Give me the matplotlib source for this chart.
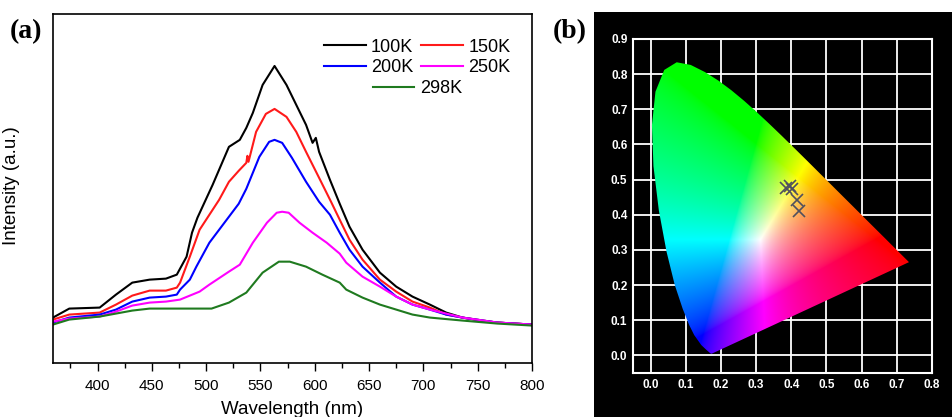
import numpy as np
import matplotlib.pyplot as plt
from matplotlib.patches import Polygon, Rectangle

# ---- (a) PL spectra (arbitrary intensity units) ----
wl_100k = [359, 374, 402, 417, 432, 448, 463, 473, 482, 487, 492, 506, 521, 531, 537, 543, 552, 563,
           574, 583, 592, 598, 601, 604, 614, 623, 632, 644, 660, 675, 690, 706, 721, 736, 752, 768, 800]
int_100k = [46, 55, 56, 69, 81, 84, 85, 89, 107, 131, 146, 179, 217, 224, 236, 251, 279, 298,
            279, 259, 239, 221, 226, 212, 184, 160, 137, 114, 91, 77, 67, 59, 51, 46, 43, 41, 39]

wl_150k = [359, 374, 402, 417, 432, 448, 463, 473, 476, 485, 494, 506, 512, 521, 530, 537, 538, 539,
           546, 555, 563, 574, 583, 592, 604, 615, 623, 632, 644, 660, 675, 690, 706, 721, 736, 768, 800]
int_150k = [44, 49, 51, 59, 68, 73, 73, 76, 81, 107, 134, 154, 164, 182, 193, 201, 208, 202,
            232, 250, 255, 247, 232, 212, 186, 162, 144, 124, 104, 84, 72, 62, 56, 49, 46, 41, 39]

wl_200k = [359, 374, 402, 417, 432, 448, 463, 473, 476, 485, 491, 503, 521, 530, 537, 549, 558, 563,
           570, 579, 592, 604, 614, 623, 632, 644, 660, 675, 690, 706, 721, 736, 768, 800]
int_200k = [41, 46, 49, 54, 62, 66, 67, 69, 74, 84, 97, 121, 147, 160, 175, 207, 222, 224,
            221, 206, 182, 162, 149, 131, 114, 97, 81, 67, 59, 54, 49, 46, 41, 39]

wl_250k = [359, 374, 402, 417, 432, 448, 463, 476, 494, 503, 521, 531, 543, 556, 565, 570, 576, 586,
           598, 611, 623, 629, 644, 660, 675, 690, 706, 736, 768, 800]
int_250k = [42, 45, 47, 52, 58, 61, 62, 64, 72, 79, 92, 99, 121, 141, 151, 152, 151, 141,
            131, 121, 110, 101, 87, 77, 67, 59, 54, 46, 41, 39]

wl_298k = [359, 374, 402, 417, 432, 448, 463, 480, 505, 521, 537, 552, 567, 577, 592, 607, 623, 629,
           644, 660, 675, 690, 706, 736, 768, 800]
int_298k = [39, 44, 47, 50, 53, 55, 55, 55, 55, 61, 71, 91, 102, 102, 97, 89, 81, 74,
            66, 59, 54, 49, 46, 43, 40, 38]

labels = ['100K', '150K', '200K', '250K', '298K']
colors = ['#000000', '#ff1a1a', '#0000ff', '#ff00ff', '#1f7a1f']

# ---- (b) CIE 1931 spectral locus and measured chromaticity points ----
locus_x = [0.1741, 0.1738, 0.1733, 0.1726, 0.1714, 0.1689, 0.1644, 0.1566, 0.1440, 0.1241, 0.1096,
           0.0913, 0.0687, 0.0454, 0.0235, 0.0082, 0.0039, 0.0139, 0.0389, 0.0743, 0.1142, 0.1547,
           0.1929, 0.2296, 0.2658, 0.3016, 0.3373, 0.3731, 0.4087, 0.4441, 0.4788, 0.5125, 0.5448,
           0.5752, 0.6029, 0.6270, 0.6658, 0.6915, 0.7079, 0.7190, 0.7260, 0.7300, 0.7334, 0.7347]
locus_y = [0.0050, 0.0049, 0.0048, 0.0048, 0.0051, 0.0069, 0.0109, 0.0177, 0.0297, 0.0578, 0.0868,
           0.1327, 0.2007, 0.2950, 0.4127, 0.5384, 0.6548, 0.7502, 0.8120, 0.8338, 0.8262, 0.8059,
           0.7816, 0.7543, 0.7243, 0.6923, 0.6589, 0.6245, 0.5896, 0.5547, 0.5202, 0.4866, 0.4544,
           0.4242, 0.3965, 0.3725, 0.3340, 0.3083, 0.2920, 0.2809, 0.2740, 0.2700, 0.2666, 0.2653]
cie_x = [0.386, 0.396, 0.401, 0.415, 0.422]
cie_y = [0.476, 0.481, 0.474, 0.443, 0.410]

plt.rcParams['font.family'] = ['Liberation Sans', 'DejaVu Sans']

fig = plt.figure(figsize=(9.53, 4.17), dpi=100)

# black backdrop of panel (b)
fig.patches.append(Rectangle((0.623, 0.0), 0.377, 0.972, transform=fig.transFigure,
                             facecolor='black', edgecolor='none', zorder=-5))

# ---------------- panel (a) ----------------
ax = fig.add_axes([0.0556, 0.1283, 0.5026, 0.838])
series = [(wl_100k, int_100k), (wl_150k, int_150k), (wl_200k, int_200k),
          (wl_250k, int_250k), (wl_298k, int_298k)]
lines = []
for (w, v), lab, c in zip(series, labels, colors):
    ln, = ax.plot(w, v, color=c, lw=1.5, label=lab)
    lines.append(ln)

ax.set_xlim(359, 800)
ax.set_ylim(0, 350)
ax.set_xticks(np.arange(400, 801, 50))
ax.set_xticks(np.arange(375, 801, 50), minor=True)
ax.set_yticks([])
ax.tick_params(axis='x', which='major', direction='out', length=6, width=1, labelsize=11, pad=5)
ax.tick_params(axis='x', which='minor', direction='out', length=3.5, width=1)
for s in ax.spines.values():
    s.set_linewidth(1.2)
ax.set_xlabel('Wavelength (nm)', fontsize=13.5, labelpad=6)
ax.set_ylabel('Intensity (a.u.)', fontsize=13.5)
ax.yaxis.set_label_coords(-0.069, 0.508)

# row-major order: 100K 150K / 200K 250K
order = [0, 2, 1, 3]
leg1 = ax.legend([lines[i] for i in order], [labels[i] for i in order], ncol=2, frameon=False,
                 fontsize=13, loc='upper right', bbox_to_anchor=(0.955, 0.93), borderaxespad=0,
                 borderpad=0, handlelength=2.3, handletextpad=0.3, columnspacing=0.45,
                 labelspacing=0.2)
ax.add_artist(leg1)
ax.legend(lines[4:], labels[4:], frameon=False, fontsize=13,
          loc='upper left', bbox_to_anchor=(0.668, 0.81), borderaxespad=0, borderpad=0,
          handlelength=2.3, handletextpad=0.3)

fig.text(0.010, 0.925, '(a)', fontsize=20, fontweight='bold', family='Liberation Serif', va='center')
fig.text(0.580, 0.925, '(b)', fontsize=20, fontweight='bold', family='Liberation Serif', va='center')

# ---------------- panel (b) ----------------
bx = fig.add_axes([0.6642, 0.1055, 0.3137, 0.801])
bx.set_facecolor('black')
bx.set_xlim(-0.05, 0.8)
bx.set_ylim(-0.05, 0.9)

# chromaticity colours: xyY (Y=1) -> linear sRGB, scaled to full brightness
gx = np.linspace(-0.05, 0.8, 500)
gy = np.linspace(-0.05, 0.9, 500)
GX, GY = np.meshgrid(gx, gy)
yy = np.clip(GY, 1e-3, None)
xyz = np.stack([GX / yy, np.ones_like(GX), (1 - GX - GY) / yy], axis=-1)
m = np.array([[3.2406, -1.5372, -0.4986],
              [-0.9689, 1.8758, 0.0415],
              [0.0557, -0.2040, 1.0570]])
rgb = np.clip(xyz @ m.T, 0, None)
rgb = rgb / (rgb.max(axis=-1, keepdims=True) + 1e-9)
rgb = rgb ** (1 / 1.6)
im = bx.imshow(rgb, origin='lower', extent=(-0.05, 0.8, -0.05, 0.9), aspect='auto',
               interpolation='bilinear', zorder=2)
horseshoe = Polygon(np.column_stack([locus_x, locus_y]), closed=True, facecolor='none',
                    edgecolor='none', transform=bx.transData)
bx.add_patch(horseshoe)
im.set_clip_path(horseshoe)

bx.plot(cie_x, cie_y, linestyle='none', marker='x', ms=8, mew=1.2, color='#50505e', zorder=3)

bx.set_xticks(np.arange(0, 0.81, 0.1))
bx.set_yticks(np.arange(0, 0.91, 0.1))
bx.set_xticklabels([f'{v:.1f}' for v in np.arange(0, 0.81, 0.1)])
bx.set_yticklabels([f'{v:.1f}' for v in np.arange(0, 0.91, 0.1)])
bx.set_axisbelow(True)
bx.grid(True, color='white', lw=1.3)
bx.tick_params(colors='white', length=0, labelsize=8.5, pad=4)
for t in bx.get_xticklabels() + bx.get_yticklabels():
    t.set_fontweight('bold')
for s in bx.spines.values():
    s.set_color('white')
    s.set_linewidth(1.5)

fig.savefig('out.png', dpi=100)
